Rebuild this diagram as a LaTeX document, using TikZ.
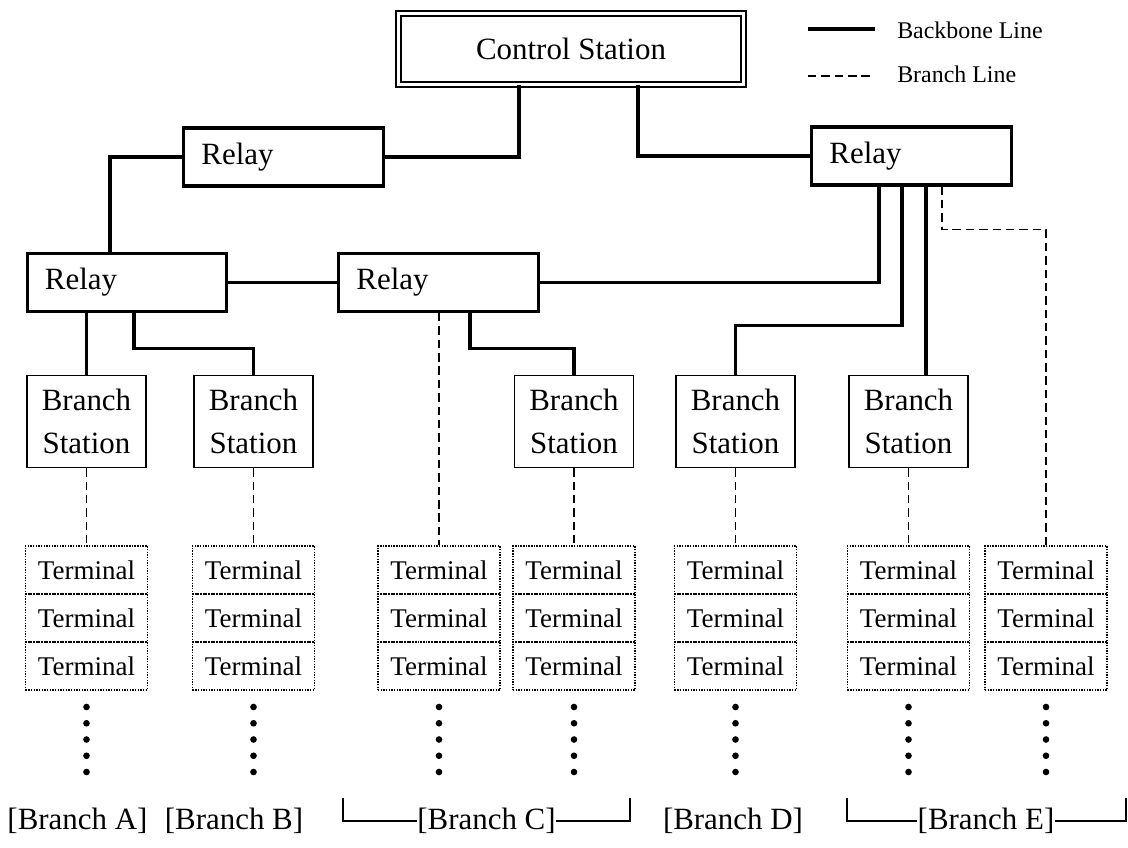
\documentclass[tikz,border=0pt]{standalone}
\usepackage{fontspec}
\setmainfont{Liberation Serif}
\usetikzlibrary{calc}

\begin{document}
\begin{tikzpicture}[x=0.025cm,y=-0.025cm]
\tikzstyle{every node}=[font=\fontsize{22}{30.5}\selectfont]
\tikzstyle{relay}=[draw,line width=2.2pt,minimum height=1.45cm,text width=4.1cm,inner xsep=0.44cm,align=left]
\tikzstyle{branchst}=[draw,line width=1pt,minimum width=2.975cm,minimum height=2.3cm,align=center,inner sep=0pt]
\tikzstyle{terminal}=[draw,line width=0.9pt,dash pattern=on 1pt off 0.9pt,minimum width=3.05cm,minimum height=1.2cm,inner sep=0pt,font=\fontsize{19.2}{22}\selectfont]
\tikzstyle{backbone}=[line width=2.4pt]
\tikzstyle{branchln}=[line width=1pt,dash pattern=on 6pt off 3.5pt]
\tikzstyle{legendtxt}=[anchor=west,inner sep=0pt,font=\fontsize{17}{20}\selectfont]
\tikzstyle{brlabel}=[inner sep=0pt]

\useasboundingbox (0,0) rectangle (1128,847);

% control station and relays
\node[draw,double,double distance=2pt,line width=1.6pt,minimum width=8.615cm,minimum height=1.765cm] (ctrl) at (571,49) {Control Station};
\node[relay] (relayT) at (283.5,157) {Relay};
\node[relay] (relayR) at (911.5,156) {Relay};
\node[relay] (relayL) at (127,282.5) {Relay};
\node[relay] (relayM) at (438.5,282.5) {Relay};

% branch stations
\node[branchst] (bsA) at (86.5,421.5) {Branch\\Station};
\node[branchst] (bsB) at (253.5,421.5) {Branch\\Station};
\node[branchst] (bsC) at (574,421.5) {Branch\\Station};
\node[branchst] (bsD) at (735.5,421.5) {Branch\\Station};
\node[branchst] (bsE) at (908.5,421.5) {Branch\\Station};

% terminal columns
\foreach \name/\x in {A/86.5,B/253.5,C1/439,C2/574,D/735.5,E1/908.5,E2/1046}{
  \foreach \r/\y in {1/570,2/618,3/666}
    \node[terminal] (t\name-\r) at (\x,\y) {Terminal};
  \foreach \k in {0,...,4}
    \fill (\x,707+16.25*\k) circle[radius=0.083cm];
}

% backbone lines
\draw[backbone] ($(ctrl.south)+(-52,0)$) |- (relayT.east);
\draw[backbone] ($(ctrl.south)+(67,0)$) |- (relayR.west);
\draw[backbone] (relayT.west) -| ($(relayL.north)+(-17,0)$);
\draw[backbone] (relayL.east) -- (relayM.west);
\draw[backbone] ($(relayR.south)+(-32.5,0)$) |- (relayM.east);
\draw[backbone] ($(relayR.south)+(-9.5,0)$) |- ($(bsD.north)+(0,-49)$) -- (bsD.north);
\draw[backbone] ($(relayR.south)+(14.5,0)$) -- ($(bsE.north)+(17.5,0)$);
\draw[backbone] (bsA.north |- relayL.south) -- (bsA.north);
\draw[backbone] ($(relayL.south)+(7,0)$) |- ($(bsB.north)+(0,-26)$) -- (bsB.north);
\draw[backbone] ($(relayM.south)+(31.5,0)$) |- ($(bsC.north)+(0,-26)$) -- (bsC.north);

% branch lines
\draw[branchln] (tC1-1.north |- relayM.south) -- (tC1-1.north);
\draw[branchln] ($(relayR.south)+(30.5,0)$) -- ++(0,43) -| (tE2-1.north);
\foreach \b/\t in {bsA/tA,bsB/tB,bsC/tC2,bsD/tD,bsE/tE1}
  \draw[branchln] (\b.south) -- (\t-1.north);

% branch labels
\node[brlabel] (lblA) at (77.5,821) {[Branch A]};
\node[brlabel] (lblB) at (234,821) {[Branch B]};
\node[brlabel] (lblC) at (486.5,821) {[Branch C]};
\node[brlabel] (lblD) at (733,821) {[Branch D]};
\node[brlabel] (lblE) at (986,821) {[Branch E]};
\coordinate (cLeft) at (343,798);
\coordinate (cRight) at (630,798);
\coordinate (eLeft) at (847,798);
\coordinate (eRight) at (1126,798);
\draw[line width=1.1pt] (lblC.west) -| (cLeft);
\draw[line width=1.1pt] (lblC.east) -| (cRight);
\draw[line width=1.1pt] (lblE.west) -| (eLeft);
\draw[line width=1.1pt] (lblE.east) -| (eRight);

% legend
\coordinate (lgA) at (808,29);
\coordinate (lgB) at (875,29);
\coordinate (lgC) at (808,76);
\coordinate (lgD) at (872,76);
\draw[line width=2.8pt] (lgA) -- (lgB);
\draw[branchln] (lgC) -- (lgD);
\node[legendtxt] (lgBackbone) at (897,30) {Backbone Line};
\node[legendtxt] (lgBranch) at (897,74) {Branch Line};

\end{tikzpicture}
\end{document}
